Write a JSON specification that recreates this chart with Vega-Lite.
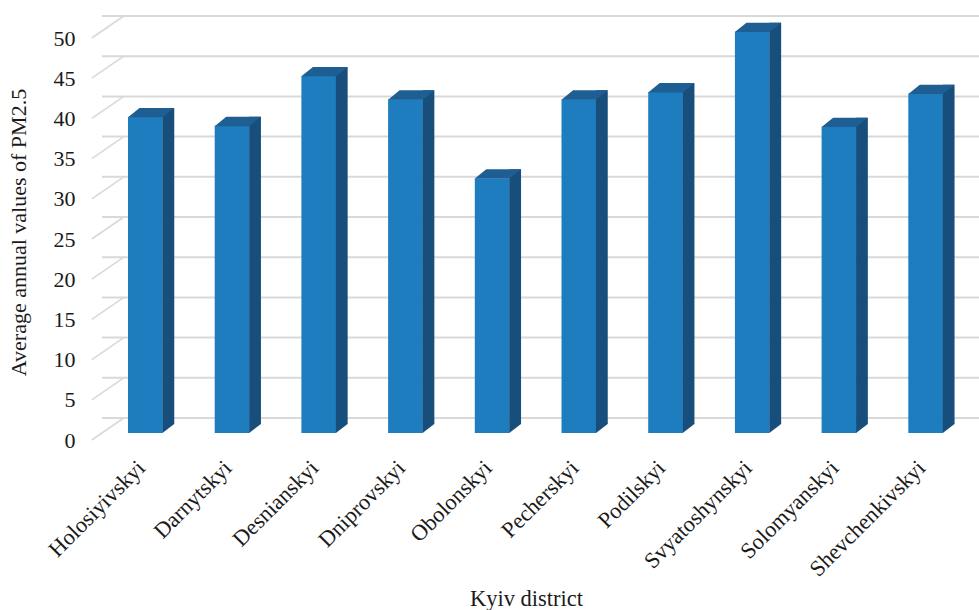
{
  "$schema": "https://vega.github.io/schema/vega-lite/v6.json",
  "width": 867,
  "height": 402,
  "autosize": {"type": "none"},
  "padding": {"left": 102, "top": 31, "right": 10, "bottom": 177},
  "background": "white",
  "config": {
    "view": {"stroke": null},
    "font": "Liberation Serif"
  },
  "datasets": {
    "districts": [
      {"district": "Holosiyivskyi", "pm25": 39.3},
      {"district": "Darnytskyi", "pm25": 38.2},
      {"district": "Desnianskyi", "pm25": 44.4},
      {"district": "Dniprovskyi", "pm25": 41.5},
      {"district": "Obolonskyi", "pm25": 31.7},
      {"district": "Pecherskyi", "pm25": 41.5},
      {"district": "Podilskyi", "pm25": 42.4},
      {"district": "Svyatoshynskyi", "pm25": 49.9},
      {"district": "Solomyanskyi", "pm25": 38.1},
      {"district": "Shevchenkivskyi", "pm25": 42.2}
    ],
    "ticks": [
      {"v": 0}, {"v": 5}, {"v": 10}, {"v": 15}, {"v": 20}, {"v": 25},
      {"v": 30}, {"v": 35}, {"v": 40}, {"v": 45}, {"v": 50}
    ]
  },
  "layer": [
    {
      "description": "back wall gridlines",
      "data": {"name": "ticks"},
      "mark": {"type": "rule", "color": "#d9d9d9", "strokeWidth": 2, "xOffset": 21.8, "x2Offset": 21.8, "yOffset": -15},
      "encoding": {
        "y": {
          "field": "v",
          "type": "quantitative",
          "scale": {"domain": [0, 50], "nice": false},
          "axis": {
            "title": "Average annual values of PM2.5",
            "titleFontSize": 22,
            "titleFontWeight": "normal",
            "titleColor": "#1a1a1a",
            "titlePadding": 23,
            "values": [0, 5, 10, 15, 20, 25, 30, 35, 40, 45, 50],
            "labelFontSize": 22,
            "labelColor": "#1a1a1a",
            "labelPadding": 27,
            "labelOffset": 7,
            "domain": false,
            "ticks": false,
            "grid": false
          }
        }
      }
    },
    {
      "description": "side wall gridlines running from the floor front to the back wall",
      "data": {"name": "ticks"},
      "mark": {"type": "rule", "color": "#d9d9d9", "strokeWidth": 1.6, "xOffset": -10.2, "x2Offset": 21.8, "yOffset": 7, "y2Offset": -15},
      "encoding": {
        "x": {"value": 0},
        "x2": {"value": 0},
        "y": {"field": "v", "type": "quantitative", "title": "Average annual values of PM2.5"},
        "y2": {"field": "v"}
      }
    },
    {
      "description": "front faces of the columns",
      "data": {"name": "districts"},
      "mark": {"type": "bar", "color": "#1e7dbe"},
      "encoding": {
        "x": {
          "field": "district",
          "type": "nominal",
          "sort": null,
          "scale": {"paddingInner": 0.6, "paddingOuter": 0.3},
          "axis": {
            "title": "Kyiv district",
            "titleFontSize": 22.5,
            "titleFontWeight": "normal",
            "titleColor": "#1a1a1a",
            "titleX": 424,
            "titleY": 165,
            "titleBaseline": "middle",
            "labelAngle": -45,
            "labelAlign": "right",
            "labelBaseline": "middle",
            "labelFontSize": 22.4,
            "labelColor": "#1a1a1a",
            "labelPadding": 31,
            "labelOffset": -4,
            "domain": false,
            "ticks": false
          }
        },
        "y": {"field": "pm25", "type": "quantitative", "title": "Average annual values of PM2.5"}
      }
    },
    {
      "description": "right side faces of the columns",
      "data": {"name": "districts"},
      "mark": {"type": "bar", "color": "#184e7b", "width": 11.8, "xOffset": 23.0, "yOffset": -9, "y2Offset": -9},
      "encoding": {
        "x": {"field": "district", "type": "nominal", "sort": null},
        "y": {"field": "pm25", "type": "quantitative", "title": "Average annual values of PM2.5"}
      }
    },
    {
      "description": "lower bevel of the side faces",
      "data": {"name": "districts"},
      "mark": {"type": "point", "filled": true, "opacity": 1, "size": 4, "strokeWidth": 0, "color": "#184e7b",
               "shape": "M17.1,0 L17.1,-9.6 L28.84,-9.6 L28.84,-9 Z"},
      "encoding": {
        "x": {"field": "district", "type": "nominal", "sort": null},
        "y": {"datum": 0, "type": "quantitative"}
      }
    },
    {
      "description": "top faces of the columns",
      "data": {"name": "districts"},
      "mark": {"type": "point", "filled": true, "opacity": 1, "size": 4, "strokeWidth": 0, "color": "#1f5e93",
               "shape": "M-17.34,0.3 L17.34,0.3 L28.84,-9 L-5.84,-9 Z"},
      "encoding": {
        "x": {"field": "district", "type": "nominal", "sort": null},
        "y": {"field": "pm25", "type": "quantitative", "title": "Average annual values of PM2.5"}
      }
    }
  ]
}
